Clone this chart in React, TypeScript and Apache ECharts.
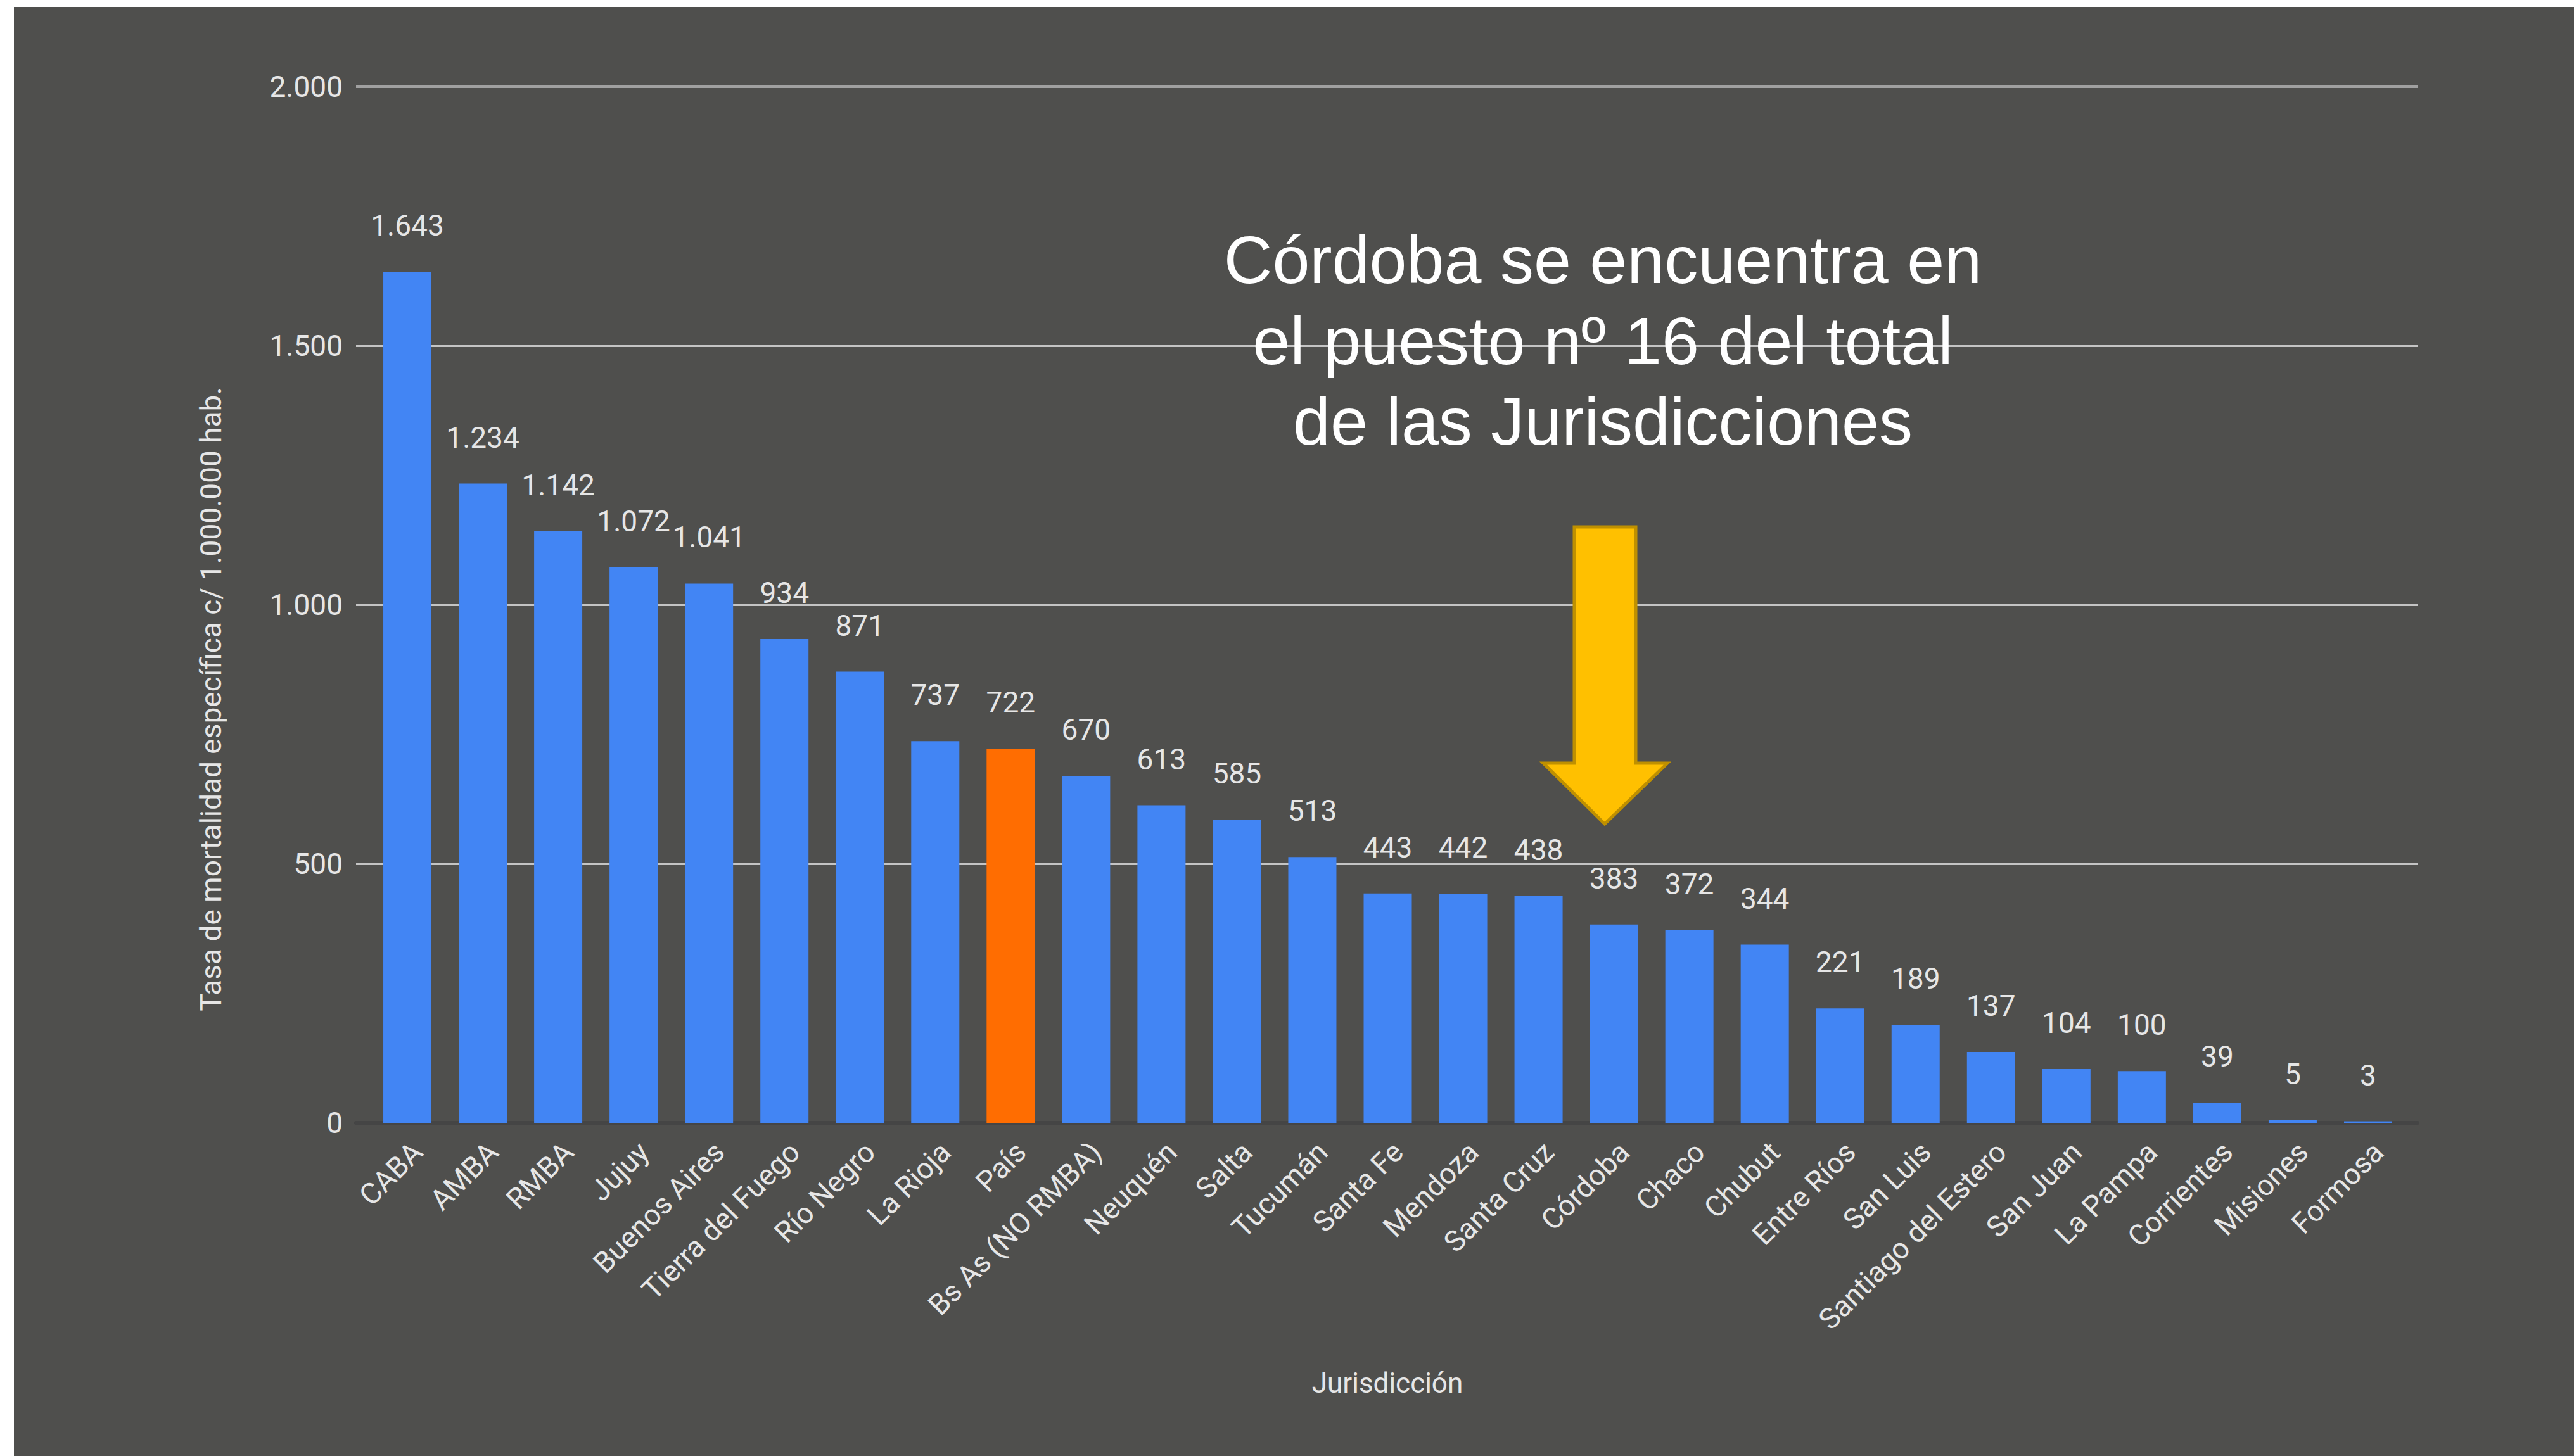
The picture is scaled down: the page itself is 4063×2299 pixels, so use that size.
import React, { useEffect, useRef } from "react";
import * as echarts from "echarts";

const categories = [
  "CABA", "AMBA", "RMBA", "Jujuy", "Buenos Aires", "Tierra del Fuego", "Río Negro",
  "La Rioja", "País", "Bs As (NO RMBA)", "Neuquén", "Salta", "Tucumán", "Santa Fe",
  "Mendoza", "Santa Cruz", "Córdoba", "Chaco", "Chubut", "Entre Ríos", "San Luis",
  "Santiago del Estero", "San Juan", "La Pampa", "Corrientes", "Misiones", "Formosa",
];
const values = [
  1643, 1234, 1142, 1072, 1041, 934, 871, 737, 722, 670, 613, 585, 513, 443, 442, 438,
  383, 372, 344, 221, 189, 137, 104, 100, 39, 5, 3,
];
const highlightCategory = "País";
const yMin = 0;
const yMax = 2000;
const yInterval = 500;
const yAxisTitle = "Tasa de mortalidad específica c/ 1.000.000 hab.";
const xAxisTitle = "Jurisdicción";
const annotationLines = [
  "Córdoba se encuentra en",
  "el puesto nº 16 del total",
  "de las Jurisdicciones",
];

const BLUE = "#4285F4";
const ORANGE = "#FF6D01";
const BG = "#4f4f4d";
const TEXT = "#e6e6e6";

const fmt = (n: number) => String(n).replace(/\B(?=(\d{3})+(?!\d))/g, ".");

export default function App() {
  const ref = useRef<HTMLDivElement>(null);

  useEffect(() => {
    document.body.style.margin = "0";
    if (!ref.current) return;
    const chart = echarts.init(ref.current, null, { renderer: "svg" });

    const labelShift = 16;

    const option: any = {
      animation: false,
      backgroundColor: "#ffffff",
      textStyle: { fontFamily: "Roboto" },
      grid: [
        { left: 562, right: 247, top: 137, bottom: 526, containLabel: false },
        { left: 583.5, right: 265.5, top: 137, bottom: 526, containLabel: false },
        {
          left: 583.5 + labelShift,
          right: 265.5 - labelShift,
          top: 137,
          bottom: 526,
          containLabel: false,
        },
      ],
      xAxis: [
        {
          type: "category",
          gridIndex: 0,
          data: categories,
          axisLabel: { show: false },
          axisTick: { show: false },
          axisLine: { show: true, lineStyle: { color: "#454545", width: 6 } },
          splitLine: { show: false },
          z: 1,
        },
        {
          type: "category",
          gridIndex: 1,
          data: categories,
          axisTick: { show: false },
          axisLine: { show: false },
          axisLabel: { show: false },
        },
        {
          type: "category",
          gridIndex: 2,
          data: categories,
          axisTick: { show: false },
          axisLine: { show: false },
          axisLabel: {
            interval: 0,
            rotate: 45,
            margin: 38,
            color: TEXT,
            fontSize: 46,
            fontFamily: "Roboto",
          },
        },
      ],
      yAxis: [
        {
          type: "value",
          gridIndex: 0,
          min: yMin,
          max: yMax,
          interval: yInterval,
          axisLine: { show: false },
          axisTick: { show: false },
          axisLabel: {
            color: TEXT,
            fontSize: 46,
            margin: 21,
            fontFamily: "Roboto",
            formatter: (v: number) => fmt(v),
          },
          splitLine: {
            show: true,
            lineStyle: {
              color: ["#454545", "#c4c4c4", "#c4c4c4", "#c4c4c4", "#a0a0a0"],
              width: 4,
            },
          },
        },
        {
          type: "value",
          gridIndex: 1,
          min: yMin,
          max: yMax,
          interval: yInterval,
          show: false,
          splitLine: { show: false },
        },
        {
          type: "value",
          gridIndex: 2,
          min: yMin,
          max: yMax,
          interval: yInterval,
          show: false,
          splitLine: { show: false },
        },
      ],
      series: [
        {
          type: "bar",
          xAxisIndex: 1,
          yAxisIndex: 1,
          barWidth: 76,
          z: 5,
          data: values.map((v, i) => ({
            value: v,
            itemStyle: { color: categories[i] === highlightCategory ? ORANGE : BLUE },
          })),
          label: {
            show: true,
            position: "top",
            distance: 50,
            color: TEXT,
            fontSize: 46,
            fontFamily: "Roboto",
            formatter: (p: any) => fmt(p.value),
          },
        },
      ],
      graphic: [
        {
          type: "rect",
          z: -100,
          silent: true,
          shape: { x: 22, y: 11, width: 4063 - 22, height: 2299 - 11 },
          style: { fill: BG },
        },
        {
          type: "text",
          z: 10,
          x: 333,
          y: 1104,
          rotation: Math.PI / 2,
          style: {
            text: yAxisTitle,
            fill: TEXT,
            font: "46px Roboto",
            textAlign: "center",
            textVerticalAlign: "middle",
          },
        },
        {
          type: "text",
          z: 10,
          x: 2190,
          y: 2184,
          style: {
            text: xAxisTitle,
            fill: TEXT,
            font: "44px Roboto",
            textAlign: "center",
            textVerticalAlign: "middle",
          },
        },
        {
          type: "polygon",
          z: 20,
          shape: {
            points: [
              [2485, 832],
              [2582, 832],
              [2582, 1205],
              [2632, 1205],
              [2533, 1301],
              [2436, 1205],
              [2485, 1205],
            ],
          },
          style: { fill: "#FFC000", stroke: "#BF9000", lineWidth: 5 },
        },
        ...annotationLines.map((t, i) => ({
          type: "text",
          z: 20,
          x: 2530,
          y: 410 + i * 127.5,
          style: {
            text: t,
            fill: "#ffffff",
            font: "106px 'Liberation Sans', Arial, sans-serif",
            textAlign: "center",
            textVerticalAlign: "middle",
          },
        })),
      ],
    };

    chart.setOption(option);
    return () => chart.dispose();
  }, []);

  return <div ref={ref} style={{ width: 4063, height: 2299 }} />;
}
